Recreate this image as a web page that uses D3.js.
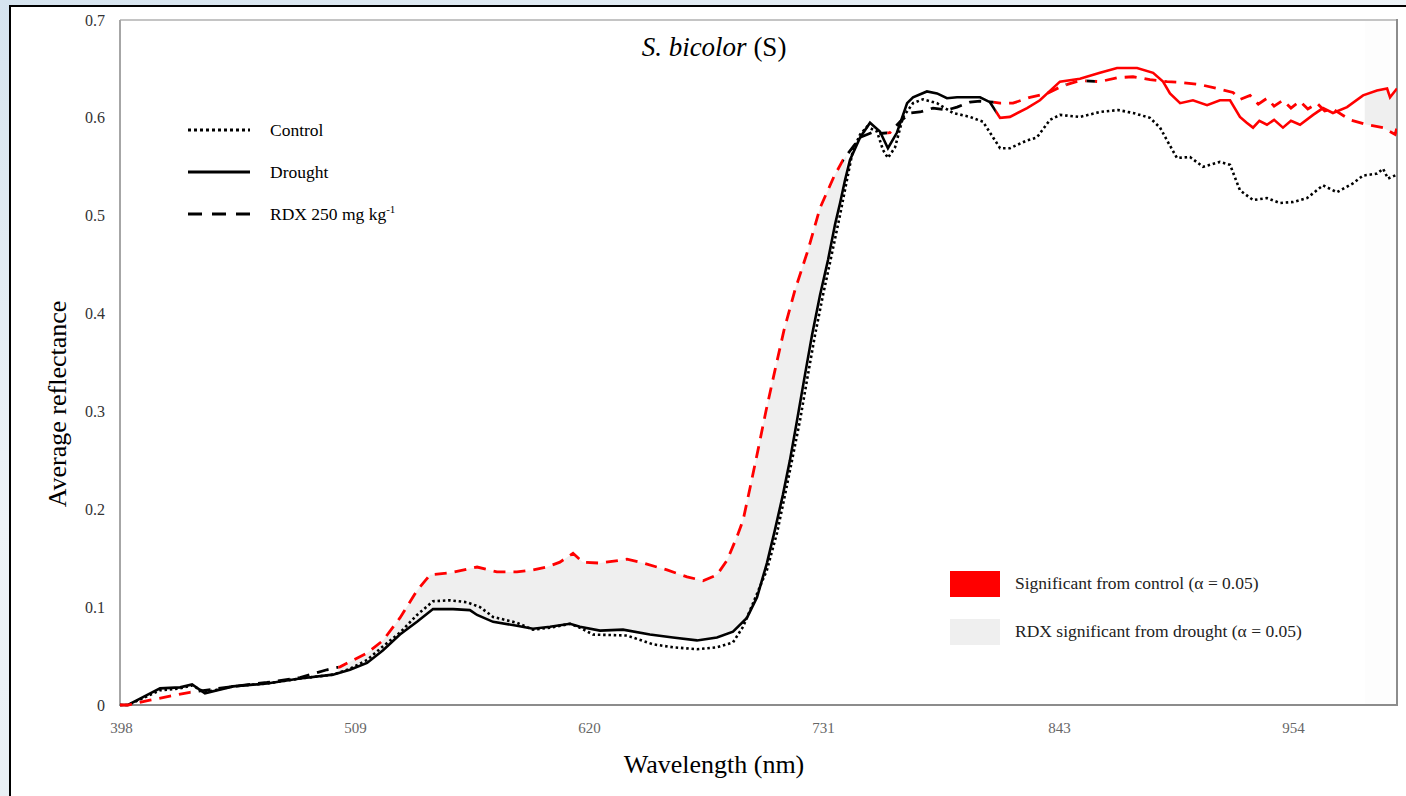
<!DOCTYPE html>
<meta charset="utf-8">
<style>
body { margin: 0; background: linear-gradient(160deg, #d6e4ef 0%, #eef3f7 40%, #dfe9f1 100%); }
svg { display: block; font-family: "Liberation Serif", "Times New Roman", serif; }
.line { fill: none; }
</style>
<svg width="1406" height="796"></svg>
<script src="https://cdn.jsdelivr.net/npm/d3@7"></script>
<script>

// wavelength (nm) / average reflectance
var controlNm = [397.5, 401.3, 408.4, 416.5, 426.0, 431.7, 437.8, 451.1, 467.2, 482.9, 498.5, 506.6, 514.7, 522.3, 530.3, 538.4, 546.0, 554.1, 562.1, 568.3, 574.5, 585.8, 593.4, 601.5, 611.0, 615.7, 621.9, 638.0, 650.4, 659.8, 671.2, 680.7, 688.3, 693.1, 697.8, 704.4, 709.2, 713.0, 716.3, 720.1, 723.4, 727.2, 731.0, 734.8, 739.1, 742.4, 745.2, 748.6, 751.9, 756.6, 759.5, 761.8, 765.2, 769.0, 773.7, 778.4, 785.1, 792.7, 800.7, 806.9, 811.7, 815.0, 819.7, 827.8, 832.5, 838.7, 843.4, 852.9, 862.4, 871.0, 878.1, 886.1, 890.9, 894.2, 898.9, 905.1, 911.3, 919.3, 924.1, 928.8, 935.0, 941.6, 947.8, 954.0, 960.6, 968.2, 974.8, 982.4, 987.2, 993.8, 996.7, 999.0, 1003.3];
var controlRefl = [0, 0, 0.007, 0.015, 0.017, 0.020, 0.013, 0.019, 0.022, 0.027, 0.031, 0.037, 0.046, 0.060, 0.074, 0.092, 0.106, 0.107, 0.105, 0.100, 0.090, 0.084, 0.077, 0.079, 0.083, 0.079, 0.072, 0.071, 0.062, 0.059, 0.057, 0.059, 0.064, 0.080, 0.104, 0.138, 0.176, 0.215, 0.250, 0.291, 0.332, 0.378, 0.419, 0.457, 0.501, 0.537, 0.567, 0.583, 0.591, 0.586, 0.567, 0.559, 0.570, 0.601, 0.615, 0.619, 0.615, 0.605, 0.601, 0.596, 0.580, 0.569, 0.569, 0.577, 0.580, 0.598, 0.603, 0.601, 0.606, 0.608, 0.605, 0.600, 0.590, 0.577, 0.559, 0.560, 0.550, 0.555, 0.552, 0.526, 0.516, 0.518, 0.513, 0.514, 0.518, 0.531, 0.524, 0.533, 0.541, 0.543, 0.548, 0.538, 0.542];

var droughtNm = [397.5, 401.3, 408.4, 416.5, 426.0, 431.7, 437.8, 451.1, 467.2, 482.9, 498.5, 506.6, 514.7, 522.3, 530.3, 538.4, 546.0, 555.5, 563.5, 566.9, 574.5, 585.8, 593.4, 601.5, 611.0, 615.7, 625.2, 636.1, 648.9, 659.8, 671.2, 680.7, 688.3, 694.9, 699.7, 704.4, 708.2, 712.0, 715.3, 718.7, 722.0, 725.8, 729.6, 733.4, 736.7, 739.1, 741.4, 743.8, 748.6, 753.3, 758.0, 761.8, 766.1, 770.9, 773.7, 780.3, 785.1, 789.8, 794.6, 805.5, 810.2, 815.0, 819.7, 827.8, 833.9, 843.4, 852.9, 862.4, 870.5, 880.0, 887.6, 892.3, 895.6, 900.4, 906.5, 913.2, 919.3, 924.1, 928.8, 932.0, 935.0, 938.0, 941.6, 945.0, 949.2, 953.0, 957.3, 963.5, 968.2, 972.9, 979.6, 987.2, 993.8, 998.6, 1000.0, 1003.3];
var droughtRefl = [0, 0, 0.008, 0.017, 0.018, 0.021, 0.012, 0.019, 0.022, 0.027, 0.031, 0.036, 0.043, 0.056, 0.072, 0.085, 0.098, 0.098, 0.097, 0.092, 0.085, 0.081, 0.078, 0.080, 0.083, 0.080, 0.076, 0.077, 0.072, 0.069, 0.066, 0.069, 0.075, 0.089, 0.110, 0.145, 0.179, 0.215, 0.250, 0.291, 0.332, 0.378, 0.419, 0.455, 0.491, 0.513, 0.536, 0.557, 0.580, 0.595, 0.586, 0.569, 0.585, 0.615, 0.621, 0.627, 0.625, 0.620, 0.621, 0.621, 0.616, 0.600, 0.601, 0.610, 0.618, 0.637, 0.640, 0.646, 0.651, 0.651, 0.646, 0.637, 0.625, 0.615, 0.618, 0.613, 0.618, 0.618, 0.601, 0.595, 0.590, 0.597, 0.593, 0.598, 0.590, 0.597, 0.593, 0.603, 0.610, 0.605, 0.611, 0.623, 0.628, 0.630, 0.621, 0.630];

var rdxNm = [397.5, 401.3, 411.7, 421.2, 430.7, 437.8, 451.1, 467.2, 482.9, 495.7, 501.9, 514.7, 522.3, 530.3, 538.4, 544.6, 554.1, 566.9, 576.3, 585.8, 593.4, 600.1, 606.2, 612.4, 617.1, 625.2, 638.0, 644.2, 657.0, 666.5, 674.1, 680.7, 685.5, 690.2, 693.1, 696.4, 700.2, 704.0, 708.2, 712.5, 717.7, 723.9, 729.6, 736.2, 740.5, 744.8, 748.6, 754.2, 758.0, 762.8, 767.5, 772.3, 777.0, 783.2, 789.8, 794.6, 800.7, 805.5, 811.7, 815.0, 821.1, 829.2, 837.3, 844.9, 852.9, 862.4, 870.5, 878.1, 886.1, 894.2, 901.8, 909.9, 917.9, 925.5, 929.0, 933.6, 937.5, 941.6, 945.0, 949.2, 953.0, 957.3, 961.0, 965.4, 969.0, 972.9, 981.0, 989.1, 996.7, 1002.4, 1003.3];
var rdxRefl = [0, 0, 0.005, 0.009, 0.013, 0.015, 0.019, 0.023, 0.028, 0.036, 0.039, 0.053, 0.066, 0.089, 0.117, 0.133, 0.135, 0.141, 0.136, 0.136, 0.138, 0.141, 0.146, 0.155, 0.146, 0.145, 0.149, 0.146, 0.138, 0.131, 0.127, 0.133, 0.148, 0.172, 0.189, 0.222, 0.261, 0.301, 0.342, 0.383, 0.424, 0.465, 0.508, 0.540, 0.557, 0.569, 0.580, 0.585, 0.584, 0.585, 0.596, 0.605, 0.606, 0.610, 0.608, 0.611, 0.616, 0.617, 0.616, 0.615, 0.615, 0.621, 0.625, 0.633, 0.638, 0.637, 0.641, 0.642, 0.639, 0.637, 0.636, 0.634, 0.630, 0.626, 0.619, 0.623, 0.614, 0.620, 0.612, 0.618, 0.610, 0.617, 0.609, 0.615, 0.607, 0.609, 0.598, 0.593, 0.590, 0.583, 0.590];

// wavelength ranges where differences are significant
var rdxVsControl = [[397.5, 431], [501, 740.5], [761.5, 764.5], [812, 843], [846.5, 856], [860, 1003.3]];
var droughtVsControl = [[813, 1003.3]];
var rdxVsDrought = [[501, 742], [988, 1003.3]];

var yTicks = [0, 0.1, 0.2, 0.3, 0.4, 0.5, 0.6, 0.7];
var xTicks = [398, 509, 620, 731, 843, 954];

var svg = d3.select("svg");

// page frame
svg.append("rect")
    .attr("x", 10).attr("y", 6)
    .attr("width", 1420).attr("height", 820)
    .attr("fill", "#fff")
    .attr("stroke", "#000")
    .attr("stroke-width", 2);

var x = d3.scaleLinear().domain([397.5, 1003.3]).range([120, 1397]),
    y = d3.scaleLinear().domain([0, 0.7]).range([705, 20]);

function pts(nm, r) { return nm.map(function(d, i) { return [d, r[i]]; }); }
var control = pts(controlNm, controlRefl),
    drought = pts(droughtNm, droughtRefl),
    rdx = pts(rdxNm, rdxRefl);

function complement(ranges) {
  var out = [], start = x.domain()[0];
  ranges.forEach(function(r) { if (r[0] > start) out.push([start, r[0]]); start = r[1]; });
  if (start < x.domain()[1]) out.push([start, x.domain()[1]]);
  return out;
}

var defs = svg.append("defs");
function clip(id, ranges) {
  var c = defs.append("clipPath").attr("id", id);
  ranges.forEach(function(r) {
    c.append("rect")
        .attr("x", x(r[0])).attr("y", 0)
        .attr("width", x(r[1]) - x(r[0])).attr("height", 796);
  });
  return "url(#" + id + ")";
}

var line = d3.line()
    .x(function(d) { return x(d[0]); })
    .y(function(d) { return y(d[1]); });

// very faint band behind the last significant range
svg.append("rect")
    .attr("x", x(988)).attr("y", 20)
    .attr("width", x(1003.3) - x(988)).attr("height", 685)
    .attr("fill", "#fdfdfd");

// grey fill between RDX and drought
var poly = rdx.concat(drought.slice().reverse());
svg.append("path")
    .attr("d", line(poly) + "Z")
    .attr("fill", "#efefef")
    .attr("clip-path", clip("c-fill", rdxVsDrought));

// plot frame
var g = svg.append("g");
g.append("line").attr("x1", 120).attr("x2", 1398).attr("y1", 20).attr("y2", 20).attr("stroke", "#c4c4c4").attr("stroke-width", 2);
g.append("line").attr("x1", 120).attr("x2", 120).attr("y1", 20).attr("y2", 706).attr("stroke", "#a6a6a6").attr("stroke-width", 2);
g.append("line").attr("x1", 1397).attr("x2", 1397).attr("y1", 19).attr("y2", 706).attr("stroke", "#8c8c8c").attr("stroke-width", 2);
g.append("line").attr("x1", 119).attr("x2", 1398).attr("y1", 705).attr("y2", 705).attr("stroke", "#8c8c8c").attr("stroke-width", 2);

function series(data, dash, width, sigRanges, id) {
  svg.append("path")
      .attr("class", "line")
      .attr("d", line(data))
      .attr("stroke", "#000")
      .attr("stroke-width", width)
      .attr("stroke-dasharray", dash)
      .attr("clip-path", clip(id + "-k", complement(sigRanges)));
  if (sigRanges.length) {
    svg.append("path")
        .attr("class", "line")
        .attr("d", line(data))
        .attr("stroke", "#ff0000")
        .attr("stroke-width", width)
        .attr("stroke-dasharray", dash)
        .attr("clip-path", clip(id + "-r", sigRanges));
  }
}

series(control, "2.5,2.8", 2.6, [], "ctl");
series(drought, null, 2.6, droughtVsControl, "dro");
series(rdx, "12,8", 2.8, rdxVsControl, "rdx");

// axes
svg.append("g")
    .attr("transform", "translate(105,0)")
    .call(d3.axisLeft(y).tickValues(yTicks).tickSize(0).tickPadding(0)
      .tickFormat(function(d) { return d === 0 ? "0" : d3.format(".1f")(d); }))
    .call(function(a) { a.select(".domain").remove(); })
    .selectAll("text")
      .attr("font-family", "Liberation Serif")
      .attr("font-size", 16)
      .attr("fill", "#333");

svg.append("g")
    .attr("transform", "translate(0,705)")
    .call(d3.axisBottom(x).tickValues(xTicks).tickSize(0).tickPadding(17))
    .call(function(a) { a.select(".domain").remove(); })
    .selectAll("text")
      .attr("font-family", "Liberation Serif")
      .attr("font-size", 15)
      .attr("fill", "#666");

svg.append("text")
    .attr("x", 714).attr("y", 773)
    .attr("text-anchor", "middle")
    .attr("font-size", 26)
    .text("Wavelength (nm)");

svg.append("text")
    .attr("transform", "translate(66,404) rotate(-90)")
    .attr("text-anchor", "middle")
    .attr("font-size", 26)
    .text("Average reflectance");

var title = svg.append("text")
    .attr("x", 714).attr("y", 56)
    .attr("text-anchor", "middle")
    .attr("font-size", 27);
title.append("tspan").attr("font-style", "italic").text("S. bicolor");
title.append("tspan").text(" (S)");

// line legend
var lineLegend = [
  {label: "Control", dash: "3,3"},
  {label: "Drought", dash: null},
  {label: "RDX 250 mg kg", dash: "14,10", sup: "-1"}
];
lineLegend.forEach(function(d, i) {
  var ly = 130 + i * 42;
  svg.append("line")
      .attr("x1", 188).attr("x2", 250).attr("y1", ly).attr("y2", ly)
      .attr("stroke", "#000").attr("stroke-width", 3)
      .attr("stroke-dasharray", d.dash);
  var t = svg.append("text")
      .attr("x", 270).attr("y", ly + 6)
      .attr("font-size", 17.5)
      .text(d.label);
  if (d.sup) t.append("tspan").attr("dy", -7).attr("font-size", 11).text(d.sup);
});

// fill legend
var fillLegend = [
  {label: "Significant  from control (\u03b1 = 0.05)", color: "#ff0000"},
  {label: "RDX significant  from drought (\u03b1 = 0.05)", color: "#efefef"}
];
fillLegend.forEach(function(d, i) {
  var ly = 571 + i * 48;
  svg.append("rect")
      .attr("x", 950).attr("y", ly)
      .attr("width", 50).attr("height", 26)
      .attr("fill", d.color);
  svg.append("text")
      .attr("x", 1015).attr("y", ly + 18)
      .attr("font-size", 17.5)
      .attr("fill", "#222")
      .text(d.label);
});

</script>
